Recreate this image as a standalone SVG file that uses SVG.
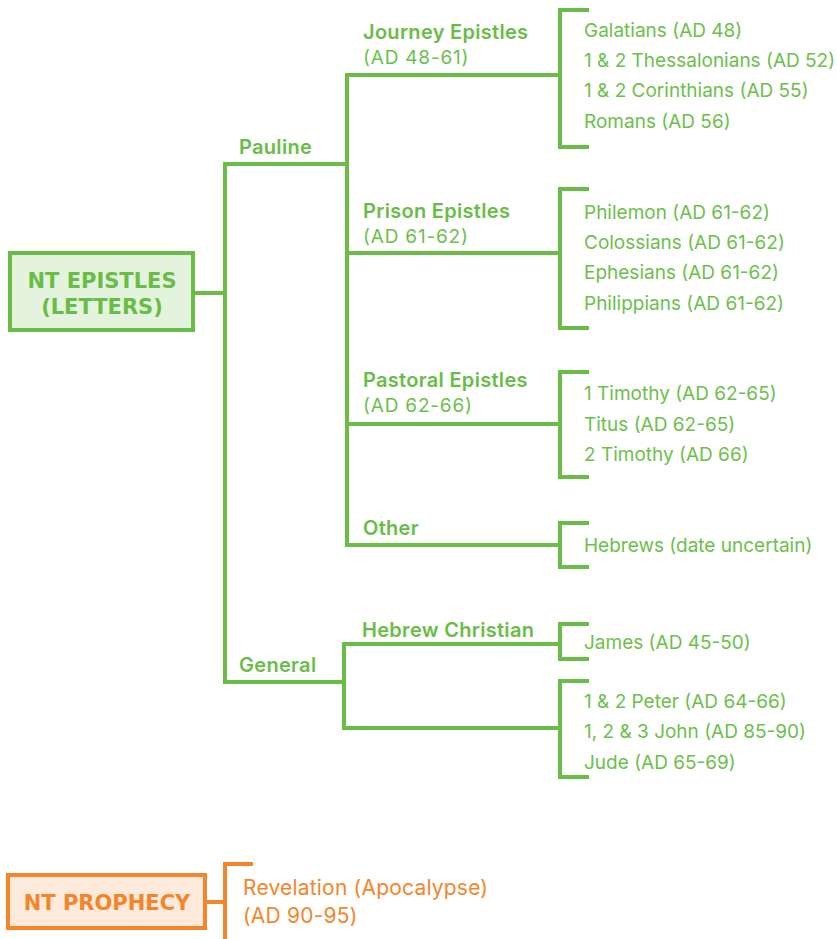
<svg xmlns="http://www.w3.org/2000/svg" width="837" height="939" viewBox="0 0 837 939">
<style>
.ln{fill:none;stroke:#69bd47;stroke-width:4;stroke-linecap:butt;stroke-linejoin:miter}
.lo{fill:none;stroke:#f5852a;stroke-width:4}
.hd{font-family:Inter,"Open Sans","Liberation Sans",sans-serif;font-size:20px;font-weight:600;letter-spacing:0.3px;fill:#69bd47}
.it{font-family:Inter,"Open Sans","Liberation Sans",sans-serif;font-size:19px;font-weight:400;fill:#6cbf4b}
.dt{letter-spacing:0.8px}
.bx{font-family:"DejaVu Sans","Liberation Sans",sans-serif;font-size:21px;font-weight:700;fill:#69bd47;text-anchor:middle}
.io{font-family:Inter,"Open Sans","Liberation Sans",sans-serif;font-size:21px;font-weight:400;letter-spacing:0.2px;fill:#f5852a}
.bo{font-family:"DejaVu Sans","Liberation Sans",sans-serif;font-size:21px;font-weight:700;fill:#f5852a;text-anchor:middle}
</style>
<rect width="837" height="939" fill="#ffffff"/>
<g id="connectors">
<path class="ln" d="M193,293 H225 M225,162 V684 M223,164 H347 M347,73 V547 M347,75 H560 M347,253 H560 M347,424 H560 M345,545 H560 M223,682 H345 M344,642 V730 M342,644 H560 M342,728 H560"/>
<path class="ln" d="M589,10 H560 V147 H589 M589,189 H560 V328 H589 M589,372 H560 V477 H589 M589,523 H560 V567 H589 M589,624 H560 V659 H589 M589,681 H560 V777 H589"/>
<path class="lo" d="M205,902 H225 M225,939 V864 H253"/>
</g>
<g id="nt-epistles">
<rect x="10" y="253" width="183" height="77" fill="#e4f3dd" stroke="#69bd47" stroke-width="4"/>
<text class="bx" x="102" y="288">NT EPISTLES</text>
<text class="bx" x="102" y="314">(LETTERS)</text>
</g>
<g id="pauline"><text class="hd" x="239" y="154">Pauline</text></g>
<g id="general"><text class="hd" x="239" y="672">General</text></g>
<g id="journey">
<text class="hd" x="363" y="39">Journey Epistles</text>
<text class="it dt" x="363" y="64">(AD 48-61)</text>
</g>
<g id="journey-books">
<text class="it" x="584" y="37">Galatians (AD 48)</text>
<text class="it" x="584" y="67">1 &amp; 2 Thessalonians (AD 52)</text>
<text class="it" x="584" y="97">1 &amp; 2 Corinthians (AD 55)</text>
<text class="it" x="584" y="128">Romans (AD 56)</text>
</g>
<g id="prison">
<text class="hd" x="363" y="218">Prison Epistles</text>
<text class="it dt" x="363" y="243">(AD 61-62)</text>
</g>
<g id="prison-books">
<text class="it" x="584" y="219">Philemon (AD 61-62)</text>
<text class="it" x="584" y="249">Colossians (AD 61-62)</text>
<text class="it" x="584" y="279">Ephesians (AD 61-62)</text>
<text class="it" x="584" y="310">Philippians (AD 61-62)</text>
</g>
<g id="pastoral">
<text class="hd" x="363" y="387">Pastoral Epistles</text>
<text class="it dt" x="363" y="412">(AD 62-66)</text>
</g>
<g id="pastoral-books">
<text class="it" x="584" y="400">1 Timothy (AD 62-65)</text>
<text class="it" x="584" y="431">Titus (AD 62-65)</text>
<text class="it" x="584" y="461">2 Timothy (AD 66)</text>
</g>
<g id="other"><text class="hd" x="363" y="535">Other</text></g>
<g id="other-books"><text class="it" x="584" y="552">Hebrews (date uncertain)</text></g>
<g id="hebrew-christian"><text class="hd" x="362" y="637">Hebrew Christian</text></g>
<g id="hc-books"><text class="it" x="584" y="649">James (AD 45-50)</text></g>
<g id="general-books">
<text class="it" x="584" y="708">1 &amp; 2 Peter (AD 64-66)</text>
<text class="it" x="584" y="738">1, 2 &amp; 3 John (AD 85-90)</text>
<text class="it" x="584" y="769">Jude (AD 65-69)</text>
</g>
<g id="nt-prophecy">
<rect x="8" y="875" width="197" height="53" fill="#fdeadb" stroke="#f5852a" stroke-width="4"/>
<text class="bo" x="107" y="910">NT PROPHECY</text>
</g>
<g id="revelation">
<text class="io" x="243" y="895">Revelation (Apocalypse)</text>
<text class="io" x="243" y="923">(AD 90-95)</text>
</g>
</svg>
